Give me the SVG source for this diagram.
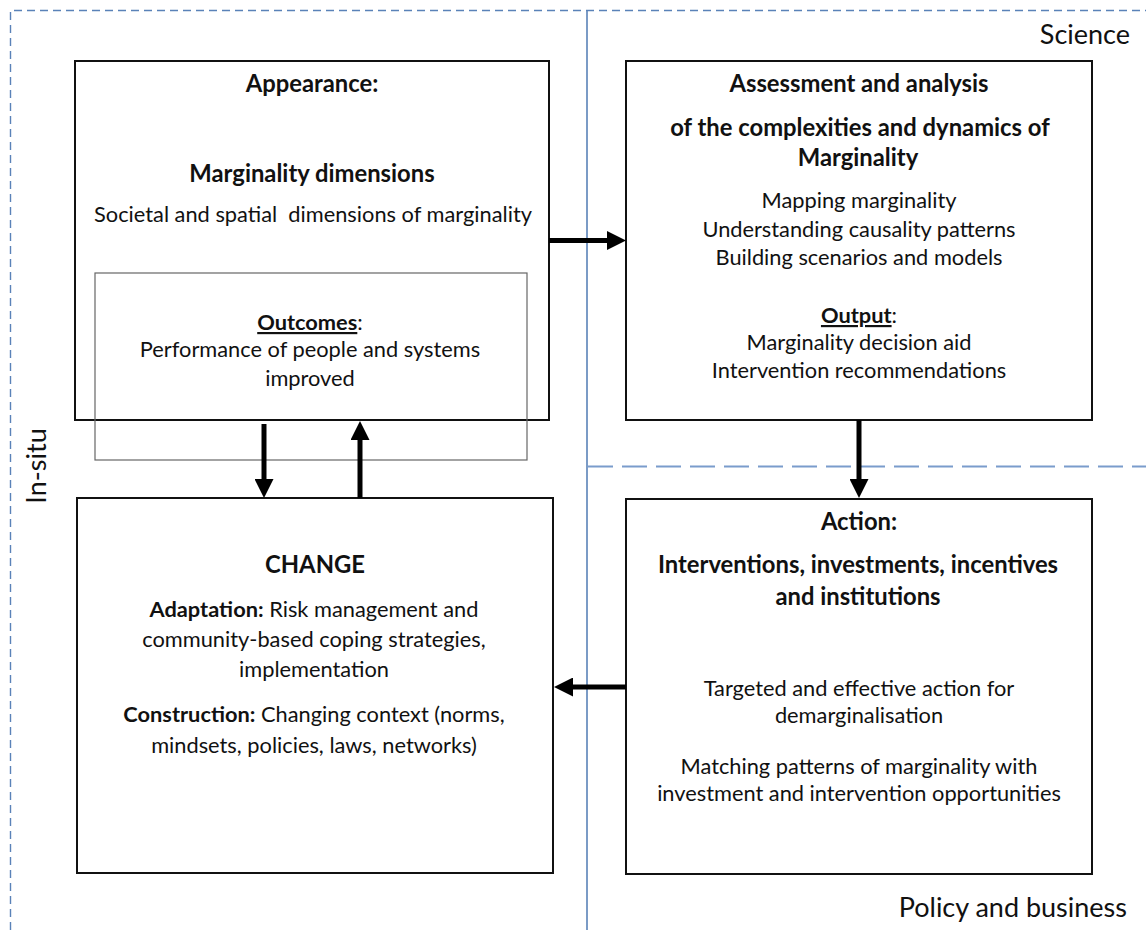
<svg xmlns="http://www.w3.org/2000/svg" width="1146" height="930" viewBox="0 0 1146 930">
<style>
text{font-family:Lato,"Open Sans","Liberation Sans",sans-serif;fill:#111;text-anchor:middle;font-size:21.8px;white-space:pre}
.b{font-weight:bold;font-size:23.8px}
.u{font-weight:bold;text-decoration:underline}
.lab{font-size:27px;text-anchor:end}
.box{fill:none;stroke:#111;stroke-width:2}
.inner{fill:none;stroke:#666;stroke-width:1.2}
.con{stroke:#000;stroke-width:5;fill:none;marker-end:url(#ah)}
</style>
<defs>
<marker id="ah" markerUnits="userSpaceOnUse" markerWidth="20" markerHeight="19" refX="4" refY="9.5" orient="auto">
<path d="M0,0 L19,9.5 L0,19 z" fill="#000"/>
</marker>
</defs>
<rect width="1146" height="930" fill="#fff"/>
<g id="regions">
<path d="M10.5,930 V10.5 H1146" fill="none" stroke="#5a82b8" stroke-width="1.4" stroke-dasharray="8,5"/>
<line x1="587" y1="10" x2="587" y2="930" stroke="#5a82b8" stroke-width="1.6"/>
<line x1="588" y1="466.5" x2="1146" y2="466.5" stroke="#7a9ccc" stroke-width="2" stroke-dasharray="25,9"/>
<text class="lab" x="1130" y="44">Science</text>
<text class="lab" x="1127" y="917">Policy and business</text>
<text class="lab" style="text-anchor:middle" transform="translate(46,466) rotate(-90)">In-situ</text>
</g>
<g id="appearance">
<rect class="box" x="75" y="61" width="474" height="359"/>
<text class="b" x="312" y="92">Appearance:</text>
<text class="b" x="312" y="182">Marginality dimensions</text>
<text x="313" y="222">Societal and spatial  dimensions of marginality</text>
</g>
<g id="outcomes">
<rect class="inner" x="95" y="273" width="432" height="187"/>
<text x="310" y="330"><tspan class="u">Outcomes</tspan>:</text>
<text x="310" y="357">Performance of people and systems</text>
<text x="310" y="386">improved</text>
</g>
<g id="assessment">
<rect class="box" x="626" y="61" width="466" height="359"/>
<text class="b" x="859" y="92">Assessment and analysis</text>
<text class="b" x="860" y="136">of the complexities and dynamics of</text>
<text class="b" x="858" y="166">Marginality</text>
<text x="859" y="208">Mapping marginality</text>
<text x="859" y="237">Understanding causality patterns</text>
<text x="859" y="265">Building scenarios and models</text>
<text x="859" y="323"><tspan class="u">Output</tspan>:</text>
<text x="859" y="350">Marginality decision aid</text>
<text x="859" y="378">Intervention recommendations</text>
</g>
<g id="action">
<rect class="box" x="626" y="499" width="466" height="375"/>
<text class="b" x="859" y="530">Action:</text>
<text class="b" x="858" y="573">Interventions, investments, incentives</text>
<text class="b" x="858" y="605">and institutions</text>
<text x="859" y="696">Targeted and effective action for</text>
<text x="859" y="723">demarginalisation</text>
<text x="859" y="774">Matching patterns of marginality with</text>
<text x="859" y="801">investment and intervention opportunities</text>
</g>
<g id="change">
<rect class="box" x="77" y="498" width="476" height="375"/>
<text class="b" x="315" y="573">CHANGE</text>
<text x="314" y="617"><tspan style="font-weight:bold">Adaptation:</tspan> Risk management and</text>
<text x="314" y="647">community-based coping strategies,</text>
<text x="314" y="677">implementation</text>
<text x="314" y="722"><tspan style="font-weight:bold">Construction:</tspan> Changing context (norms,</text>
<text x="314" y="753">mindsets, policies, laws, networks)</text>
</g>
<g id="connectors">
<line class="con" x1="549" y1="240.5" x2="611" y2="240.5"/>
<line class="con" x1="859" y1="420" x2="859" y2="483"/>
<line class="con" x1="264" y1="424" x2="264" y2="483"/>
<line class="con" x1="360" y1="498" x2="360" y2="436"/>
<line class="con" x1="626" y1="687" x2="569" y2="687"/>
</g>
</svg>
